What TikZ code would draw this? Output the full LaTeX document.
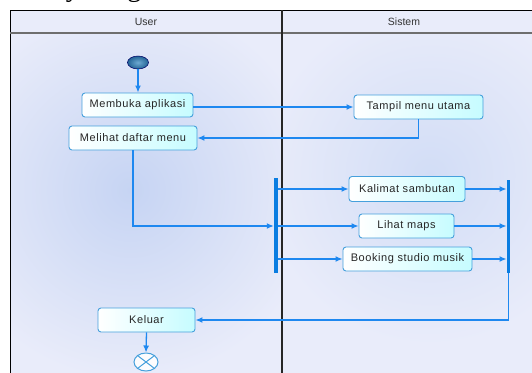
\documentclass[tikz,border=0pt]{standalone}
\usepackage{fontspec}
\setmainfont{Liberation Sans}
\newfontfamily\capfont{Liberation Serif}
\newfontfamily\boxfont[LetterSpace=5]{Liberation Sans}
\usetikzlibrary{arrows.meta,shapes.geometric,calc}
\definecolor{lanebg}{RGB}{233,236,250}
\definecolor{blobA}{RGB}{198,212,243}
\definecolor{blobB}{RGB}{210,221,246}
\definecolor{conncol}{RGB}{30,136,240}
\definecolor{barcol}{RGB}{10,125,225}
\definecolor{boxline}{RGB}{70,160,220}
\definecolor{boxfill}{RGB}{198,252,255}
\definecolor{hdrline}{RGB}{110,110,110}
\tikzset{
  actbox/.style={draw=boxline, line width=0.9pt, rounded corners=3pt,
    left color=white, right color=boxfill, inner sep=0pt,
    minimum height=24pt, font=\boxfont\fontsize{11}{13}\selectfont, text=black!85},
  flow/.style={draw=conncol, line width=1.3pt, -{Latex[length=7pt,width=6pt]}},
  syncbar/.style={fill=barcol, draw=none, minimum width=3.5pt, inner sep=0pt},
  hdr/.style={font=\fontsize{10.5}{12}\selectfont, text=black!80}
}
\begin{document}
\begin{tikzpicture}[x=1pt,y=-1pt]
\useasboundingbox (0,0) rectangle (532,372);
% backgrounds
\fill[white] (0,0) rectangle (532,372);
\fill[lanebg] (10,10) rectangle (545,385);
\begin{scope}
  \clip (10,34) rectangle (282,385);
  \shade[inner color=blobA, outer color=lanebg] (130,190) circle (190);
\end{scope}
\begin{scope}
  \clip (282,34) rectangle (545,385);
  \shade[inner color=blobB, outer color=lanebg] (430,175) circle (170);
\end{scope}
% caption (cut off at top)
\node[anchor=base west, inner sep=0pt, font=\capfont\fontsize{28}{30}\selectfont] (cap) at (-12,-4) {Activity Diagram Menu Utama User};
% frame
\draw[black, line width=1pt] (10,385) -- (10,10) -- (545,10);
\draw[hdrline, line width=1.8pt] (10,33) -- (545,33);
\draw[black!85, line width=1.2pt] (282,10) -- (282,385);
\node[hdr] (hu) at (146,21.5) {User};
\node[hdr] (hs) at (404,21.5) {Sistem};
% nodes
\node[ellipse, minimum width=21pt, minimum height=13pt, inner sep=0pt,
      draw=black!60!blue, line width=0.5pt, inner color={rgb,255:red,110;green,170;blue,210},
      outer color={rgb,255:red,35;green,100;blue,150}] (start) at (138,62.5) {};
\node[actbox, minimum width=111pt] (membuka) at (137.5,105) {Membuka aplikasi};
\node[actbox, minimum width=128pt] (melihat) at (133,138) {Melihat daftar menu};
\node[actbox, minimum width=129pt] (tampil) at (418.5,107) {Tampil menu utama};
\node[actbox, minimum width=116pt, minimum height=25pt] (kalimat) at (407,189) {Kalimat sambutan};
\node[actbox, minimum width=95pt] (lihat) at (406.5,226) {Lihat maps};
\node[actbox, minimum width=129pt] (booking) at (407.5,259) {Booking studio musik};
\node[actbox, minimum width=97pt] (keluar) at (146.5,320) {Keluar};
\node[ellipse, minimum width=24pt, minimum height=18pt, inner sep=0pt,
      draw=boxline, line width=1pt, fill=white!85!lanebg] (end) at (146,362) {};
\draw[boxline, line width=1pt] (end.north west) -- (end.south east);
\draw[boxline, line width=1pt] (end.north east) -- (end.south west);
% connectors
\draw[flow] (start.south) -- (start.south |- membuka.north);
\draw[flow] (membuka.east |- tampil.west) -- (tampil.west);
\draw[flow] (tampil.south) |- (melihat.east);
\node[syncbar, minimum height=95pt] (fork) at (275.75,225.5) {};
\node[syncbar, minimum height=93pt] (join) at (508.5,226.5) {};
\draw[flow] (melihat.south) |- (fork.west |- lihat.west);
\draw[flow] (fork.east |- kalimat.west) -- (kalimat.west);
\draw[flow] (fork.east |- lihat.west) -- (lihat.west);
\draw[flow] (fork.east |- booking.west) -- (booking.west);
\draw[flow] (kalimat.east) -- (join.west |- kalimat.east);
\draw[flow] (lihat.east) -- (join.west |- lihat.east);
\draw[flow] (booking.east) -- (join.west |- booking.east);
\draw[flow] (join.south) |- (keluar.east);
\draw[flow] (keluar.south) -- (end.north);
\end{tikzpicture}
\end{document}
